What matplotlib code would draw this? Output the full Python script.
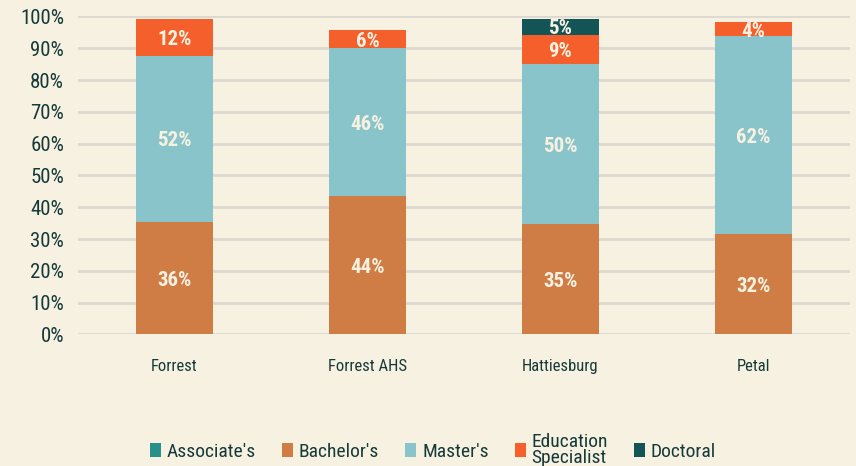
import matplotlib
matplotlib.use("Agg")
import matplotlib.pyplot as plt
from matplotlib import font_manager as fm
import numpy as np

categories = ["Forrest", "Forrest AHS", "Hattiesburg", "Petal"]
series_names = ["Associate's", "Bachelor's", "Master's", "Education\nSpecialist", "Doctoral"]
associates = [0.0, 0.0, 0.0, 0.0]
bachelors = [35.5, 43.6, 34.7, 31.6]
masters = [52.2, 46.4, 50.3, 62.2]
ed_specialist = [11.5, 5.7, 9.2, 4.4]
doctoral = [0.0, 0.0, 5.0, 0.0]
y_ticks = [0, 10, 20, 30, 40, 50, 60, 70, 80, 90, 100]

colors = ["#279089", "#CF7C45", "#8AC4CB", "#F45F2B", "#135456"]
bg = "#F7F1E1"
text_col = "#163A3A"

names = {f.name for f in fm.fontManager.ttflist}
fam = [f for f in ["Roboto Condensed", "Liberation Sans Narrow", "Roboto", "DejaVu Sans"] if f in names]
plt.rcParams['font.family'] = fam

fig = plt.figure(figsize=(8.56, 4.66), dpi=100, facecolor=bg)
ax = fig.add_axes([0.0911, 0.2822, 0.9019, 0.6824], facecolor=bg)

series = [associates, bachelors, masters, ed_specialist, doctoral]
x = np.arange(len(categories))
bottom = np.zeros(len(categories))
handles = []
for name, vals, c in zip(series_names, series, colors):
    vals = np.array(vals)
    b = ax.bar(x, vals, 0.4, bottom=bottom, color=c, label=name, zorder=3)
    handles.append(b)
    for xi, v, bt in zip(x, vals, bottom):
        if v > 0:
            ax.text(xi, bt + v / 2, f"{round(v):d}%", ha="center", va="center_baseline",
                    color="#F7F1E1", fontsize=15, fontweight="bold", zorder=4)
    bottom += vals

ax.set_xlim(-0.5, 3.5)
ax.set_ylim(0, 100)
ax.set_yticks(y_ticks)
ax.set_yticklabels([f"{t}%" for t in y_ticks], fontsize=15, color=text_col)
ax.set_xticks(x)
ax.set_xticklabels(categories, fontsize=12, color=text_col)
ax.tick_params(axis="both", length=0)
ax.tick_params(axis="x", pad=18)
ax.tick_params(axis="y", pad=10)
for s in ax.spines.values():
    s.set_visible(False)
ax.yaxis.grid(True, color="#DCD9D2", linewidth=2, zorder=0)
ax.set_axisbelow(True)

leg = fig.legend(handles, series_names, loc="center", bbox_to_anchor=(0.506, 0.035), ncol=5,
                 frameon=False, fontsize=14, handlelength=0.55, handleheight=0.7,
                 handletextpad=0.3, columnspacing=1.35, labelcolor=text_col)
for t in leg.get_texts():
    t.set_linespacing(0.85)

fig.savefig("out.png", dpi=100, facecolor=bg)
